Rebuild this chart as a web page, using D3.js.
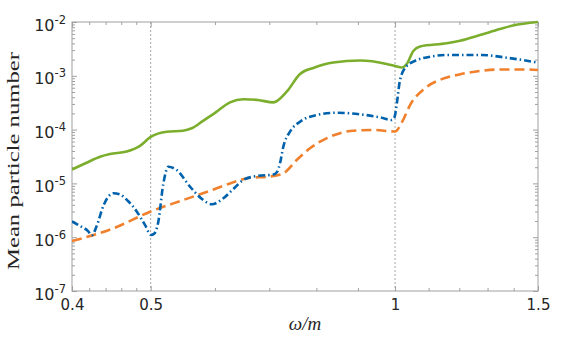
<!DOCTYPE html>
<html>
<head>
<meta charset="utf-8">
<script src="https://cdn.jsdelivr.net/npm/d3@7"></script>
<style>
  body { margin: 0; background: #fff; }
</style>
</head>
<body>
<svg id="chart" width="586" height="337"></svg>
<script>
// ---- data (omega/m, mean particle number) ----
var omegaGreen = [0.400, 0.4162, 0.4331, 0.4455, 0.4671, 0.4851, 0.5000, 0.5233, 0.5480, 0.5617, 0.5800,
    0.6001, 0.6262, 0.6503, 0.6779, 0.7080, 0.7354, 0.7637, 0.7931, 0.8394, 0.9054, 0.9766, 1.0000,
    1.0199, 1.0336, 1.0532, 1.0734, 1.1578, 1.2023, 1.2725, 1.3468, 1.3974, 1.5];
var nGreen = [1.81e-5, 2.39e-5, 3.13e-5, 3.52e-5, 3.92e-5, 5.0e-5, 7.3e-5, 9.14e-5, 9.55e-5, 1.06e-4, 1.45e-4,
    2.04e-4, 3.21e-4, 3.66e-4, 3.55e-4, 3.21e-4, 5.06e-4, 1.08e-3, 1.40e-3, 1.77e-3, 1.92e-3, 1.66e-3, 1.52e-3,
    1.43e-3, 1.66e-3, 2.89e-3, 3.51e-3, 4.02e-3, 4.49e-3, 5.73e-3, 7.41e-3, 8.61e-3, 1.0e-2];

var omegaBlue = [0.400, 0.4092, 0.4186, 0.4230, 0.4290, 0.4371, 0.4430, 0.4497, 0.4583, 0.4689, 0.4806,
    0.4920, 0.5005, 0.5047, 0.5109, 0.5182, 0.5256, 0.5383, 0.5590, 0.5805, 0.5945, 0.6144, 0.6321,
    0.6503, 0.6754, 0.7080, 0.7155, 0.7216, 0.7284, 0.7423, 0.7637, 0.8008, 0.8475, 0.9054, 0.9582,
    0.9906, 0.9985, 1.0056, 1.0142, 1.0336, 1.0532, 1.1043, 1.1578, 1.2725, 1.3726, 1.5];
var nBlue = [1.96e-6, 1.61e-6, 1.30e-6, 1.08e-6, 1.61e-6, 3.80e-6, 5.58e-6, 6.55e-6, 6.22e-6, 4.71e-6, 3.01e-6,
    1.69e-6, 1.10e-6, 1.15e-6, 1.92e-6, 9.75e-6, 2.04e-5, 1.77e-5, 8.69e-6, 4.91e-6, 4.09e-6, 5.28e-6, 7.87e-6,
    1.16e-5, 1.37e-5, 1.46e-5, 1.63e-5, 2.37e-5, 4.81e-5, 9.14e-5, 1.40e-4, 1.87e-4, 2.06e-4, 1.92e-4, 1.69e-4,
    1.51e-4, 1.71e-4, 3.26e-4, 8.35e-4, 1.52e-3, 1.83e-3, 2.26e-3, 2.44e-3, 2.44e-3, 2.17e-3, 1.75e-3];

var omegaOrange = [0.400, 0.4497, 0.5000, 0.5485, 0.6000, 0.6262, 0.6600, 0.7000, 0.7284, 0.7566, 0.7857,
    0.8315, 0.8884, 0.9402, 1.0000, 1.0199, 1.0434, 1.0887, 1.1578, 1.2000, 1.2725, 1.3468, 1.4458, 1.5];
var nOrange = [8.49e-7, 1.46e-6, 3.01e-6, 4.91e-6, 7.87e-6, 1.00e-5, 1.26e-5, 1.34e-5, 1.54e-5, 2.72e-5, 4.49e-5,
    7.38e-5, 9.55e-5, 9.84e-5, 9.23e-5, 1.38e-4, 2.86e-4, 5.86e-4, 9.29e-4, 1.06e-3, 1.23e-3, 1.31e-3, 1.31e-3, 1.28e-3];

var xTicks = [0.4, 0.5, 1, 1.5];
var xMinorTicks = [0.42, 0.44, 0.46, 0.48, 0.6, 0.7, 0.8, 0.9, 1.1, 1.2, 1.3, 1.4];
var yTicks = [1e-7, 1e-6, 1e-5, 1e-4, 1e-3, 1e-2];
var refLines = [0.5, 1];

var svg = d3.select('#chart');
// note: "top" is taken by window.top, so use m* names
var mLeft = 72, mRight = 538, mTop = 22, mBottom = 291;
var tickFont = '"DejaVu Sans", sans-serif';
var labelFont = '"Liberation Serif", serif';

var x = d3.scaleLog().domain([0.4, 1.5]).range([mLeft, mRight]);
var y = d3.scaleLog().domain([1e-7, 1e-2]).range([mBottom, mTop]);

// minor y ticks: 2..9 in every decade
var yMinorTicks = [];
yTicks.slice(0, -1).forEach(function(d) {
    for (var k = 2; k <= 9; k++) yMinorTicks.push(d * k);
});

svg.append('rect').attr('width', 586).attr('height', 337).attr('fill', '#fff');

svg.append('defs').append('clipPath').attr('id', 'plotClip')
    .append('rect')
    .attr('x', mLeft).attr('y', mTop - 2)
    .attr('width', mRight - mLeft).attr('height', mBottom - mTop + 2);

// dotted reference lines
svg.selectAll('line.ref')
    .data(refLines)
    .enter()
    .append('line')
    .classed('ref', true)
    .attr('x1', function(d) { return x(d); })
    .attr('x2', function(d) { return x(d); })
    .attr('y1', mTop).attr('y2', mBottom)
    .attr('stroke', '#a8a8a8')
    .attr('stroke-width', 1)
    .attr('stroke-dasharray', '2,2');

// axes, ticks pointing inward
function addAxis(axis, tx, ty, size, values) {
    var g = svg.append('g')
        .attr('transform', 'translate(' + tx + ',' + ty + ')')
        .call(axis.tickValues(values).tickSize(size).tickSizeOuter(0));
    g.select('.domain').remove();
    g.selectAll('.tick line').attr('stroke', '#a0a0a0');
    return g;
}

var xb = addAxis(d3.axisBottom(x), 0, mBottom, -5, xTicks);
xb.selectAll('.tick text')
    .attr('y', 8).attr('dy', '0.74em')
    .attr('fill', '#262626')
    .style('font-family', tickFont)
    .style('font-size', '15px')
    .text(function(d) { return d3.format('')(d); });
addAxis(d3.axisBottom(x).tickFormat(''), 0, mBottom, -3, xMinorTicks);
addAxis(d3.axisTop(x).tickFormat(''), 0, mTop, -5, xTicks);
addAxis(d3.axisTop(x).tickFormat(''), 0, mTop, -3, xMinorTicks);

var yl = addAxis(d3.axisLeft(y), mLeft, 0, -5, yTicks);
yl.selectAll('.tick text').each(function(d) {
    var t = d3.select(this).text('')
        .attr('x', -6).attr('dy', '8px')
        .attr('fill', '#262626')
        .style('font-family', tickFont);
    t.append('tspan').style('font-size', '16px').text('10');
    t.append('tspan').style('font-size', '11.5px').attr('dy', '-7px')
        .text('-' + Math.round(-Math.log10(d)));
});
addAxis(d3.axisLeft(y).tickFormat(''), mLeft, 0, -3, yMinorTicks);
addAxis(d3.axisRight(y).tickFormat(''), mRight, 0, -5, yTicks);
addAxis(d3.axisRight(y).tickFormat(''), mRight, 0, -3, yMinorTicks);

// frame
svg.append('rect')
    .attr('x', mLeft).attr('y', mTop)
    .attr('width', mRight - mLeft).attr('height', mBottom - mTop)
    .attr('fill', 'none')
    .attr('stroke', '#a0a0a0')
    .attr('stroke-width', 1);

// curves
var line = d3.line()
    .x(function(d) { return x(d[0]); })
    .y(function(d) { return y(d[1]); })
    .curve(d3.curveMonotoneX);

var series = [
    {om: omegaGreen, n: nGreen, color: '#7bae2c', dash: null},
    {om: omegaOrange, n: nOrange, color: '#f0802c', dash: '10,5'},
    {om: omegaBlue, n: nBlue, color: '#0062ac', dash: '7,3,1.5,3'}
];

svg.append('g').attr('clip-path', 'url(#plotClip)')
    .selectAll('path.curve')
    .data(series)
    .enter()
    .append('path')
    .classed('curve', true)
    .attr('d', function(s) { return line(d3.zip(s.om, s.n)); })
    .attr('fill', 'none')
    .attr('stroke', function(s) { return s.color; })
    .attr('stroke-width', 2.6)
    .attr('stroke-dasharray', function(s) { return s.dash; });

// axis titles
svg.append('text')
    .attr('transform', 'translate(19,161) rotate(-90)')
    .attr('text-anchor', 'middle')
    .style('font-family', labelFont)
    .style('font-size', '17px')
    .attr('fill', '#262626')
    .attr('textLength', 218)
    .attr('lengthAdjust', 'spacingAndGlyphs')
    .text('Mean particle number');

svg.append('text')
    .attr('x', (mLeft + mRight) / 2).attr('y', 330)
    .attr('text-anchor', 'middle')
    .style('font-family', labelFont)
    .style('font-size', '19px')
    .style('font-style', 'italic')
    .attr('fill', '#262626')
    .text('ω/m');
</script>
</body>
</html>
